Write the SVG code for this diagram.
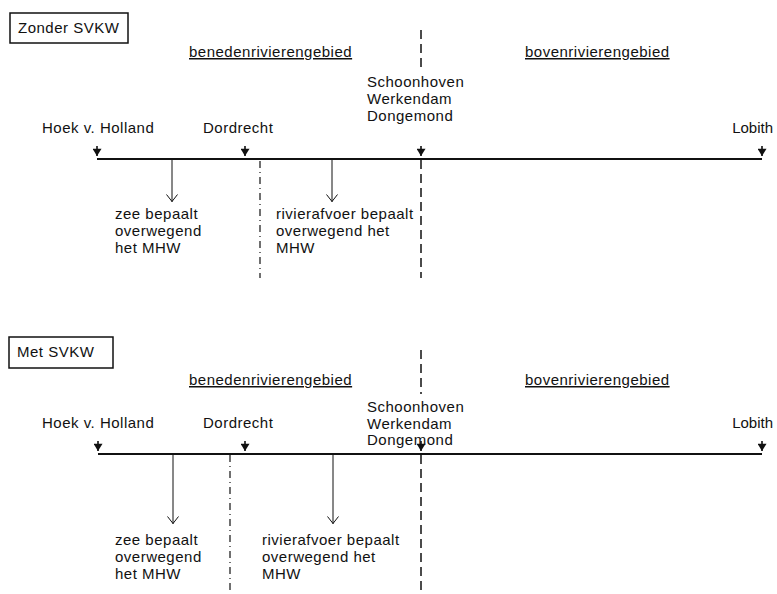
<svg xmlns="http://www.w3.org/2000/svg" width="777" height="594" viewBox="0 0 777 594">
<style>
text{font-family:"Liberation Sans",Arial,sans-serif;font-size:15px;fill:#111;letter-spacing:0.5px}
.u{text-decoration:underline}
.r{text-anchor:end;letter-spacing:0}
.box{fill:#fff;stroke:#111;stroke-width:1.5}
.axis{stroke:#111;stroke-width:1.8;fill:none}
.mk{stroke:#111;stroke-width:1.6;fill:none}
.thin{stroke:#111;stroke-width:1;fill:none}
.dash{stroke:#111;stroke-width:1.5;stroke-dasharray:9 5;fill:none}
.dd{stroke:#111;stroke-width:1.2;stroke-dasharray:7 4 1 4;fill:none}
</style>
<defs>
<marker id="fh" viewBox="0 0 10 10" refX="5" refY="10" markerWidth="9" markerHeight="9" markerUnits="userSpaceOnUse" orient="0">
<path d="M0,2 L10,2 L5,10 Z" fill="#111"/>
</marker>
<marker id="oh" viewBox="0 0 12 8" refX="6" refY="8" markerWidth="12" markerHeight="8" markerUnits="userSpaceOnUse" orient="0">
<path d="M0.5,0.5 L6,7.5 L11.5,0.5" fill="none" stroke="#111" stroke-width="1"/>
</marker>
</defs>

<!-- Zonder SVKW -->
<g id="title-zonder"><rect class="box" x="10" y="13" width="118" height="30"/><text x="18" y="33">Zonder SVKW</text></g>
<g id="beneden-1"><text class="u" x="189" y="57">benedenrivierengebied</text></g>
<g id="boven-1"><text class="u" x="525" y="57">bovenrivierengebied</text></g>
<g id="schoonhoven-1"><text x="367" y="87">Schoonhoven</text><text x="367" y="104">Werkendam</text><text x="367" y="121">Dongemond</text></g>
<g id="hoek-1"><text x="42" y="133">Hoek v. Holland</text></g>
<g id="dordrecht-1"><text x="203" y="133">Dordrecht</text></g>
<g id="lobith-1"><text class="r" x="773" y="133">Lobith</text></g>
<g id="zee-1"><text x="115" y="219">zee bepaalt</text><text x="115" y="236">overwegend</text><text x="115" y="253">het MHW</text></g>
<g id="rivier-1"><text x="276" y="219">rivierafvoer bepaalt</text><text x="276" y="236">overwegend het</text><text x="276" y="253">MHW</text></g>

<!-- Met SVKW -->
<g id="title-met"><rect class="box" x="9" y="337" width="104" height="31"/><text x="17" y="357">Met SVKW</text></g>
<g id="beneden-2"><text class="u" x="189" y="385">benedenrivierengebied</text></g>
<g id="boven-2"><text class="u" x="525" y="385">bovenrivierengebied</text></g>
<g id="schoonhoven-2"><text x="367" y="412">Schoonhoven</text><text x="367" y="429">Werkendam</text><text x="367" y="445">Dongemond</text></g>
<g id="hoek-2"><text x="42" y="428">Hoek v. Holland</text></g>
<g id="dordrecht-2"><text x="203" y="428">Dordrecht</text></g>
<g id="lobith-2"><text class="r" x="773" y="428">Lobith</text></g>
<g id="zee-2"><text x="115" y="545">zee bepaalt</text><text x="115" y="562">overwegend</text><text x="115" y="579">het MHW</text></g>
<g id="rivier-2"><text x="262" y="545">rivierafvoer bepaalt</text><text x="262" y="562">overwegend het</text><text x="262" y="579">MHW</text></g>

<g id="connectors">
<!-- top -->
<line class="axis" x1="97" y1="159" x2="762" y2="159"/>
<line class="mk" x1="97" y1="146" x2="97" y2="156" marker-end="url(#fh)"/>
<line class="mk" x1="245" y1="146" x2="245" y2="156" marker-end="url(#fh)"/>
<line class="mk" x1="421" y1="146" x2="421" y2="156" marker-end="url(#fh)"/>
<line class="mk" x1="762" y1="146" x2="762" y2="156" marker-end="url(#fh)"/>
<line class="thin" x1="172" y1="160" x2="172" y2="202" marker-end="url(#oh)"/>
<line class="thin" x1="332" y1="160" x2="332" y2="202" marker-end="url(#oh)"/>
<line class="dd" x1="260" y1="161" x2="260" y2="278"/>
<line class="dash" x1="421" y1="30" x2="421" y2="70"/>
<line class="dash" x1="421" y1="160" x2="421" y2="278"/>
<!-- bottom -->
<line class="axis" x1="98" y1="454" x2="762" y2="454"/>
<line class="mk" x1="98" y1="441" x2="98" y2="451" marker-end="url(#fh)"/>
<line class="mk" x1="245" y1="441" x2="245" y2="451" marker-end="url(#fh)"/>
<line class="mk" x1="421" y1="441" x2="421" y2="451" marker-end="url(#fh)"/>
<line class="mk" x1="762" y1="441" x2="762" y2="451" marker-end="url(#fh)"/>
<line class="thin" x1="173" y1="455" x2="173" y2="524" marker-end="url(#oh)"/>
<line class="thin" x1="333" y1="455" x2="333" y2="524" marker-end="url(#oh)"/>
<line class="dd" x1="230" y1="455" x2="230" y2="594"/>
<line class="dash" x1="421" y1="350" x2="421" y2="394"/>
<line class="dash" x1="421" y1="455" x2="421" y2="594"/>
</g>
</svg>
